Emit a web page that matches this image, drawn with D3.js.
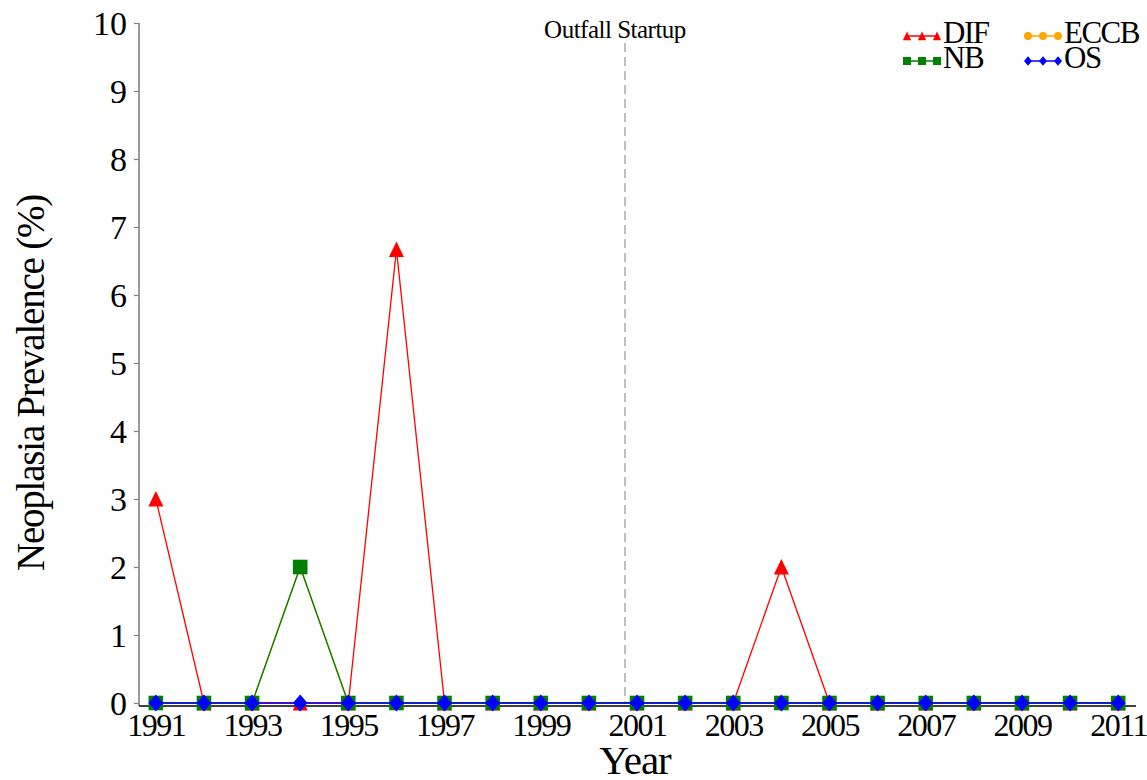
<!DOCTYPE html>
<html>
<head>
<meta charset="utf-8">
<script src="https://cdn.jsdelivr.net/npm/d3@7"></script>
<style>
  html, body { margin: 0; padding: 0; background: #fff; }
  svg { display: block; }
  text { font-family: "Liberation Serif", "Times New Roman", serif; fill: #000; }
</style>
</head>
<body>
<svg id="chart" width="1147" height="780"></svg>
<script>
// Neoplasia prevalence by station, 1991-2011
const years = d3.range(1991, 2012);
const difValues  = [3, 0, 0, 0, 0, 6.67, 0, 0, 0, 0, 0, 0, 0, 2, 0, 0, 0, 0, 0, 0, 0];
const eccbValues = [0, 0, 0, 2, 0, 0, 0, 0, 0, 0, 0, 0, 0, 0, 0, 0, 0, 0, 0, 0, 0];
const nbValues   = [0, 0, 0, 2, 0, 0, 0, 0, 0, 0, 0, 0, 0, 0, 0, 0, 0, 0, 0, 0, 0];
const osValues   = [0, 0, 0, 0, 0, 0, 0, 0, 0, 0, 0, 0, 0, 0, 0, 0, 0, 0, 0, 0, 0];
const seriesNames = ["DIF", "ECCB", "NB", "OS"];
const xTickYears = [1991, 1993, 1995, 1997, 1999, 2001, 2003, 2005, 2007, 2009, 2011];
const yTicks = [0, 1, 2, 3, 4, 5, 6, 7, 8, 9, 10];
const outfallYear = 2000.75;

const series = [
  { name: "DIF",  values: difValues,  color: "#ff0000", shape: "triangle" },
  { name: "ECCB", values: eccbValues, color: "#ffa500", shape: "circle" },
  { name: "NB",   values: nbValues,   color: "#008000", shape: "square" },
  { name: "OS",   values: osValues,   color: "#0000ff", shape: "diamond" }
];

// marker outlines, scaled by k
function markerPath(shape, k) {
  const p = d3.path();
  if (shape === "triangle") {
    p.moveTo(0, -8 * k); p.lineTo(7.5 * k, 7.5 * k); p.lineTo(-7.5 * k, 7.5 * k); p.closePath();
  } else if (shape === "square") {
    p.rect(-7.3 * k, -7.3 * k, 14.6 * k, 14.6 * k);
  } else if (shape === "diamond") {
    p.moveTo(0, -8.5 * k); p.lineTo(7.3 * k, 0); p.lineTo(0, 8.5 * k); p.lineTo(-7.3 * k, 0); p.closePath();
  } else {
    p.arc(0, 0, 7.2 * k, 0, 2 * Math.PI);
  }
  return p.toString();
}

const svg = d3.select("#chart");

const x = d3.scaleLinear().domain([1990.65, 2011.37]).range([139, 1136]);
const y = d3.scaleLinear().domain([0, 10]).range([703, 23]);
const axisBottomY = 706;

// y axis
const yAxis = svg.append("g").attr("transform", `translate(${x.range()[0]},0)`)
  .call(d3.axisLeft(y).tickValues(yTicks).tickFormat(d3.format("d")).tickSize(5).tickPadding(7));
yAxis.select(".domain").remove();
yAxis.append("line")
  .attr("x1", 0).attr("x2", 0).attr("y1", y(10)).attr("y2", axisBottomY)
  .attr("stroke", "#808080").attr("stroke-width", 1.6);
yAxis.selectAll(".tick line").attr("stroke", "#808080").attr("stroke-width", 1.2);
yAxis.selectAll(".tick text")
  .style("font-family", '"Liberation Serif", serif').style("font-size", "34px")
  .attr("fill", "#000").attr("dy", "0.34em");

// x axis
const xAxis = svg.append("g").attr("transform", `translate(0,${axisBottomY})`)
  .call(d3.axisBottom(x).tickValues(xTickYears).tickFormat(d3.format("d")).tickSize(0).tickPadding(7));
xAxis.select(".domain").attr("stroke", "#000").attr("stroke-width", 1.6)
  .attr("d", `M${x.range()[0]},0H${x.range()[1]}`);
xAxis.selectAll(".tick text")
  .style("font-family", '"Liberation Serif", serif').style("font-size", "32px")
  .attr("fill", "#000").attr("letter-spacing", "-1.5px");

// outfall startup marker
svg.append("line")
  .attr("x1", x(outfallYear)).attr("x2", x(outfallYear))
  .attr("y1", 43).attr("y2", y(0))
  .attr("stroke", "#aaaaaa").attr("stroke-width", 1.5).attr("stroke-dasharray", "9,5");
svg.append("text")
  .attr("x", x(outfallYear) - 10).attr("y", 38)
  .attr("text-anchor", "middle").style("font-size", "25px")
  .attr("letter-spacing", "-0.5px")
  .text("Outfall Startup");

// series lines and markers
const line = d3.line().x((d, i) => x(years[i])).y(d => y(d));
series.forEach(s => {
  svg.append("path").datum(s.values)
    .attr("d", line).attr("fill", "none")
    .attr("stroke", s.color).attr("stroke-width", s.name === "OS" ? 1.6 : 1.3);
  svg.append("g").selectAll("path").data(s.values).join("path")
    .attr("transform", (d, i) => `translate(${x(years[i])},${y(d)})`)
    .attr("d", markerPath(s.shape, 1))
    .attr("fill", s.color);
});

// legend
const legendItems = [
  { s: series[0], lx: 907, ly: 36 },
  { s: series[1], lx: 1028, ly: 36 },
  { s: series[2], lx: 907, ly: 61 },
  { s: series[3], lx: 1028, ly: 61 }
];
const legend = svg.append("g");
legendItems.forEach(it => {
  const g = legend.append("g").attr("transform", `translate(${it.lx},${it.ly})`);
  g.append("line").attr("x1", 0).attr("x2", 30).attr("y1", 0).attr("y2", 0)
    .attr("stroke", it.s.color).attr("stroke-width", 1.5);
  [0, 15, 30].forEach(px => {
    g.append("path").attr("transform", `translate(${px},0)`)
      .attr("d", markerPath(it.s.shape, 0.55)).attr("fill", it.s.color);
  });
  g.append("text").attr("x", 36).attr("y", 7)
    .style("font-size", "31px").attr("letter-spacing", "-1.5px")
    .text(it.s.name);
});

// axis titles
svg.append("text")
  .attr("x", 635).attr("y", 774).attr("text-anchor", "middle")
  .style("font-size", "41px").attr("letter-spacing", "-1px")
  .text("Year");
svg.append("text")
  .attr("transform", "translate(44,383) rotate(-90)")
  .attr("text-anchor", "middle")
  .style("font-size", "39px").attr("letter-spacing", "-1.2px")
  .text("Neoplasia Prevalence (%)");
</script>
</body>
</html>
